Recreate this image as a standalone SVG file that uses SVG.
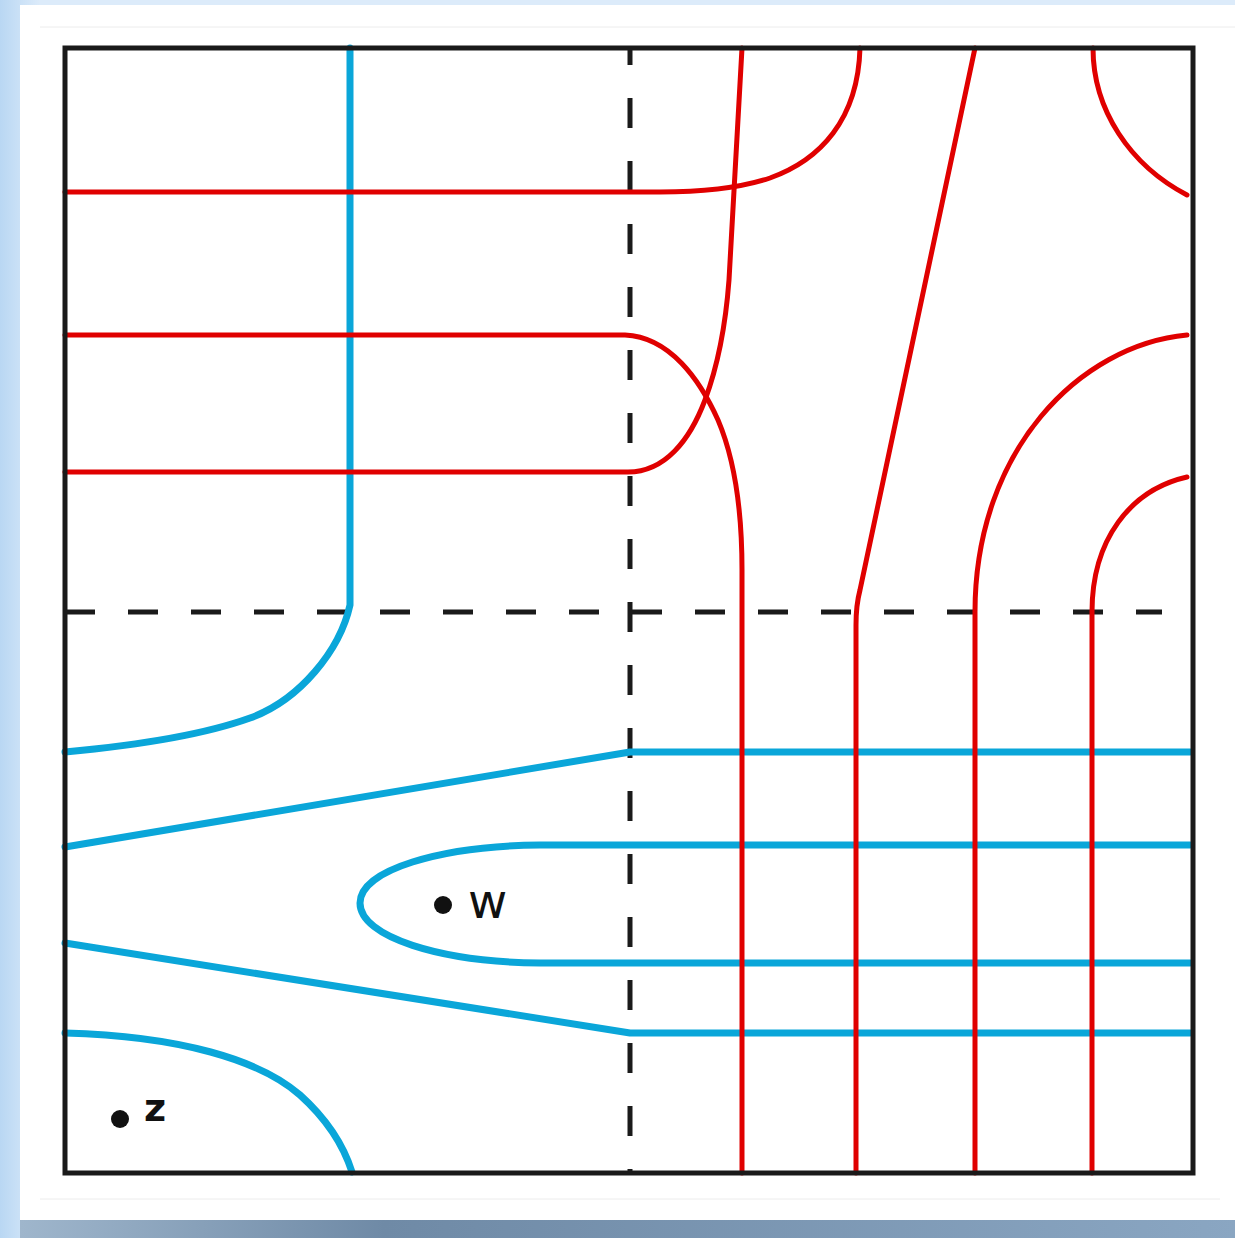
<svg xmlns="http://www.w3.org/2000/svg" width="1235" height="1238" viewBox="0 0 1235 1238">
<defs>
<linearGradient id="bgL" x1="0" y1="0" x2="1" y2="0">
<stop offset="0" stop-color="#b9d7f3"/>
<stop offset="1" stop-color="#dcebfa"/>
</linearGradient>
<linearGradient id="shadow" x1="0" y1="0" x2="1" y2="0">
<stop offset="0" stop-color="#9fb6cc"/>
<stop offset="0.3" stop-color="#6f8aa6"/>
<stop offset="1" stop-color="#8aa6c2"/>
</linearGradient>
<style>
.red{fill:none;stroke:#e00000;stroke-width:5;stroke-linecap:round;stroke-linejoin:round}
.blue{fill:none;stroke:#0aa6d9;stroke-width:7;stroke-linecap:round;stroke-linejoin:round}
.dash{fill:none;stroke:#1a1a1a;stroke-width:5;stroke-dasharray:30 33}
.lbl{font-family:"DejaVu Sans",sans-serif;fill:#111}
</style>
</defs>
<rect x="0" y="0" width="1235" height="1238" fill="#dcebfa"/>
<rect x="0" y="0" width="40" height="1238" fill="url(#bgL)"/>
<rect x="20" y="1218" width="1215" height="20" fill="url(#shadow)"/>
<rect x="20" y="5" width="1215" height="1215" fill="#ffffff"/>
<line x1="40" y1="27" x2="1235" y2="27" stroke="#ececec" stroke-width="1"/>
<line x1="40" y1="1199" x2="1220" y2="1199" stroke="#ececec" stroke-width="1"/>
<g id="dashes">
<line class="dash" x1="65" y1="612" x2="1162" y2="612"/>
<line class="dash" x1="630" y1="48" x2="630" y2="1173" stroke-dashoffset="13"/>
</g>
<g id="connectors">
<g id="blue-curves">
<path class="blue" d="M350,48 V605 C340,650 300,700 250,718 C200,736 130,746 65,752"/>
<path class="blue" d="M65,847 L630,752 H1190"/>
<path class="blue" d="M1190,845 H540 C440,846 360,870 360,903 C360,937 440,962 540,963 H1190"/>
<path class="blue" d="M65,943 L630,1033 H1190"/>
<path class="blue" d="M65,1033 C180,1036 260,1060 300,1095 C330,1122 345,1150 352,1172"/>
</g>
<g id="red-curves">
<path class="red" d="M65,192 H660 C700,192 740,188 770,178 C820,160 858,120 860,48"/>
<path class="red" d="M65,335 H625 C670,337 700,380 718,420 C735,460 742,510 742,570 V1173"/>
<path class="red" d="M65,472 H628 C665,472 690,440 705,400 C720,360 726,320 729,280 L742,48"/>
<path class="red" d="M975,48 L860,590 Q856,605 856,625 V1173"/>
<path class="red" d="M1187,335 C1080,345 975,450 975,612 V1173"/>
<path class="red" d="M1187,477 C1130,490 1092,540 1092,612 V1173"/>
<path class="red" d="M1093,48 C1093,110 1130,165 1187,195"/>
</g>
</g>
<rect id="frame" x="65" y="48" width="1128" height="1125" fill="none" stroke="#1a1a1a" stroke-width="5"/>
<g id="node-w">
<circle cx="443" cy="905" r="9" fill="#111"/>
<text class="lbl" x="468" y="918" font-size="48">w</text>
</g>
<g id="node-z">
<circle cx="120" cy="1119" r="9" fill="#111"/>
<text class="lbl" x="144" y="1121" font-size="38" font-weight="bold">z</text>
</g>
</svg>
